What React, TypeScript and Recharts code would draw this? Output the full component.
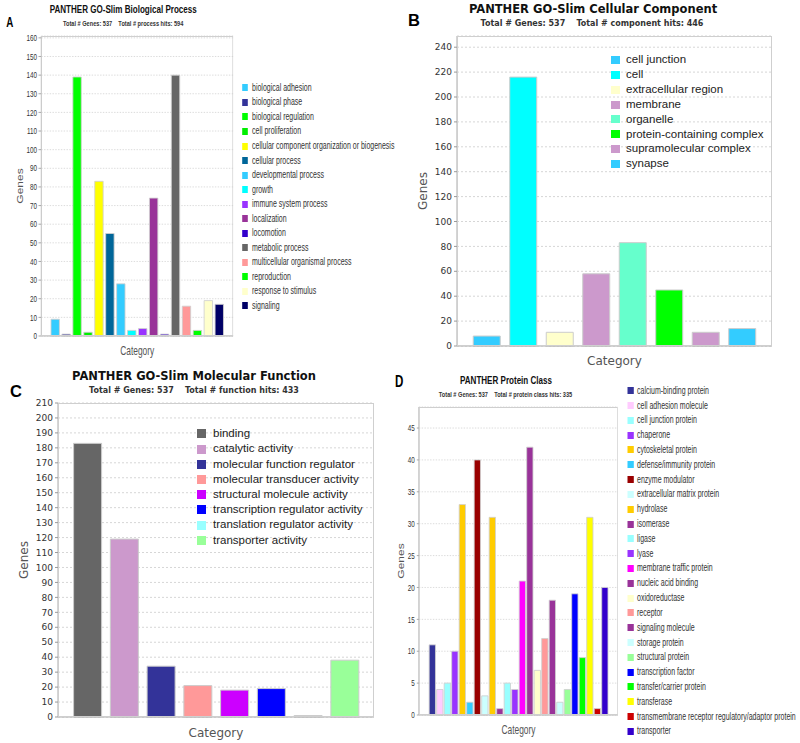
import React from "react";
import { BarChart, Bar, Cell, XAxis, YAxis, CartesianGrid, Legend } from "recharts";

// A: biological process
const bpCategories = [
  "biological adhesion", "biological phase", "biological regulation", "cell proliferation",
  "cellular component organization or biogenesis", "cellular process", "developmental process",
  "growth", "immune system process", "localization", "locomotion", "metabolic process",
  "multicellular organismal process", "reproduction", "response to stimulus", "signaling",
];
const bpGenes = [9, 1, 139, 2, 83, 55, 28, 3, 4, 74, 1, 140, 16, 3, 19, 17];
const bpColors = [
  "#33ccff", "#333399", "#00ff00", "#00ee00", "#ffff00", "#006699", "#33ccff", "#00ffff",
  "#9933ff", "#993399", "#3300cc", "#666666", "#ff9999", "#00ff00", "#ffffcc", "#000066",
];
const bpTicks = [0, 10, 20, 30, 40, 50, 60, 70, 80, 90, 100, 110, 120, 130, 140, 150, 160];

// B: cellular component
const ccCategories = [
  "cell junction", "cell", "extracellular region", "membrane", "organelle",
  "protein-containing complex", "supramolecular complex", "synapse",
];
const ccGenes = [8, 216, 11, 58, 83, 45, 11, 14];
const ccColors = ["#33ccff", "#00ffff", "#ffffcc", "#cc99cc", "#66ffcc", "#00ff00", "#cc99cc", "#33ccff"];
const ccTicks = [0, 20, 40, 60, 80, 100, 120, 140, 160, 180, 200, 220, 240];

// C: molecular function
const mfCategories = [
  "binding", "catalytic activity", "molecular function regulator", "molecular transducer activity",
  "structural molecule activity", "transcription regulator activity", "translation regulator activity",
  "transporter activity",
];
const mfGenes = [183, 119, 34, 21, 18, 19, 1, 38];
const mfColors = ["#666666", "#cc99cc", "#333399", "#ff9999", "#cc00ff", "#0000ff", "#99ffff", "#99ff99"];
const mfTicks = [0, 10, 20, 30, 40, 50, 60, 70, 80, 90, 100, 110, 120, 130, 140, 150, 160, 170, 180, 190, 200, 210];

// D: protein class
const pcCategories = [
  "calcium-binding protein", "cell adhesion molecule", "cell junction protein", "chaperone",
  "cytoskeletal protein", "defense/immunity protein", "enzyme modulator", "extracellular matrix protein",
  "hydrolase", "isomerase", "ligase", "lyase", "membrane traffic protein", "nucleic acid binding",
  "oxidoreductase", "receptor", "signaling molecule", "storage protein", "structural protein",
  "transcription factor", "transfer/carrier protein", "transferase",
  "transmembrane receptor regulatory/adaptor protein", "transporter",
];
const pcGenes = [11, 4, 5, 10, 33, 2, 40, 3, 31, 1, 5, 4, 21, 42, 7, 12, 18, 2, 4, 19, 9, 31, 1, 20];
const pcColors = [
  "#333399", "#ffccff", "#99ffff", "#9933ff", "#ffcc00", "#33ccff", "#990000", "#ccffff",
  "#ffcc00", "#993399", "#99ffff", "#9933ff", "#ff00ff", "#993399", "#ffffcc", "#ff9999",
  "#993399", "#ccffff", "#99ff99", "#0000ff", "#00ff00", "#ffff00", "#cc0000", "#3300cc",
];
const pcTicks = [0, 5, 10, 15, 20, 25, 30, 35, 40, 45];

const SANS = "'Liberation Sans', Arial, Helvetica, sans-serif";
const DEJAVU = "'DejaVu Sans', Verdana, sans-serif";

type LegendCfg = {
  left: number; top: number; row: number; swW: number; swH: number; gap: number;
  fontSize: number; font: string; color: string;
};

type PanelProps = {
  letter: string; title: string; subtitle: string;
  categories: string[]; values: number[]; colors: string[]; ticks: number[]; yMax: number;
  left: number; top: number; width: number; height: number; squash: number;
  plot: { left: number; right: number; top: number; bottom: number };
  pad: number; gap: string; tickSize: number; tickMargin: number;
  font: string; tickFont: number; labelFont: number; genesOffset: number; categoryOffset: number;
  titleFont: string; titleSize: number; subSize: number;
  titleCx: number; titleCy: number; subCx: number; subCy: number;
  letterX: number; letterCy: number; letterSize: number;
  legend: LegendCfg; barStroke: string;
};

function LegendList({ names, colors, cfg }: { names: string[]; colors: string[]; cfg: LegendCfg }) {
  return (
    <div style={{ fontFamily: cfg.font, fontSize: cfg.fontSize, color: cfg.color, whiteSpace: "nowrap", lineHeight: 1 }}>
      {names.map((n, i) => (
        <div key={n} style={{ display: "flex", alignItems: "center", height: cfg.row }}>
          <span style={{ display: "inline-block", width: cfg.swW, height: cfg.swH, background: colors[i], marginRight: cfg.gap, flex: "none" }} />
          <span>{n}</span>
        </div>
      ))}
    </div>
  );
}

function Panel(p: PanelProps) {
  const rows = p.categories.map((name, i) => ({ name, genes: p.values[i], color: p.colors[i] }));
  const innerW = Math.round(p.width / p.squash);
  const pl = p.plot;
  return (
    <div
      style={{
        position: "absolute", left: p.left, top: p.top, width: innerW, height: p.height,
        transform: `scaleX(${p.squash})`, transformOrigin: "0 0",
      }}
    >
      <div style={{ position: "absolute", left: p.letterX, top: p.letterCy - p.letterSize * 0.55, fontFamily: SANS, fontWeight: "bold", fontSize: p.letterSize, lineHeight: 1 }}>
        {p.letter}
      </div>
      <div style={{ position: "absolute", left: p.titleCx - 200, width: 400, top: p.titleCy - p.titleSize * 0.55, textAlign: "center", fontFamily: p.titleFont, fontWeight: "bold", fontSize: p.titleSize, lineHeight: 1, whiteSpace: "nowrap", color: "#111" }}>
        {p.title}
      </div>
      <div style={{ position: "absolute", left: p.subCx - 200, width: 400, top: p.subCy - p.subSize * 0.55, textAlign: "center", fontFamily: p.titleFont, fontWeight: "bold", fontSize: p.subSize, lineHeight: 1, whiteSpace: "pre", color: "#333" }}>
        {p.subtitle}
      </div>
      <BarChart
        width={innerW}
        height={p.height}
        data={rows}
        margin={{ top: pl.top, right: innerW - pl.right, bottom: 0, left: 0 }}
        barCategoryGap={p.gap}
      >
        <CartesianGrid vertical={false} stroke="#d6d6d6" strokeDasharray="2 2" />
        <XAxis
          dataKey="name"
          tick={false}
          tickLine={false}
          axisLine={{ stroke: "#aaa" }}
          height={p.height - pl.bottom}
          padding={{ left: p.pad, right: p.pad }}
          label={{ value: "Category", position: "insideBottom", offset: p.categoryOffset, fill: "#555", fontSize: p.labelFont, fontFamily: p.font }}
        />
        <YAxis
          type="number"
          width={pl.left}
          domain={[0, p.yMax]}
          ticks={p.ticks}
          interval={0}
          tickSize={p.tickSize}
          tickMargin={p.tickMargin}
          axisLine={{ stroke: "#aaa" }}
          tickLine={{ stroke: "#999" }}
          tick={{ fontSize: p.tickFont, fontFamily: p.font, fill: "#333" }}
          label={{ value: "Genes", angle: -90, position: "insideLeft", offset: p.genesOffset, fill: "#555", fontSize: p.labelFont, fontFamily: p.font, style: { textAnchor: "middle" } }}
        />
        <Legend
          layout="vertical"
          align="center"
          verticalAlign="middle"
          content={() => <LegendList names={p.categories} colors={p.colors} cfg={p.legend} />}
          wrapperStyle={{ left: p.legend.left, top: p.legend.top, width: "auto", height: "auto" }}
        />
        <Bar dataKey="genes" isAnimationActive={false} stroke={p.barStroke} strokeWidth={1}>
          {rows.map((r) => (
            <Cell key={r.name} fill={r.color} />
          ))}
        </Bar>
      </BarChart>
      <div
        style={{
          position: "absolute", left: pl.left, top: pl.top, width: pl.right - pl.left, height: pl.bottom - pl.top,
          border: "1px solid #cfcfcf", boxSizing: "border-box", pointerEvents: "none",
        }}
      />
    </div>
  );
}

export default function App() {
  return (
    <div style={{ position: "absolute", left: 0, top: 0, width: 800, height: 743, overflow: "hidden", background: "#fff" }}>
      <Panel
        letter="A"
        title="PANTHER GO-Slim Biological Process"
        subtitle={"Total # Genes: 537    Total # process hits: 594"}
        categories={bpCategories} values={bpGenes} colors={bpColors} ticks={bpTicks} yMax={161}
        left={0} top={0} width={400} height={365} squash={0.7}
        plot={{ left: 59, right: 333, top: 36, bottom: 336 }}
        pad={12} gap="12%" tickSize={4} tickMargin={2}
        font={SANS} tickFont={9} labelFont={12} genesOffset={29} categoryOffset={10}
        titleFont={SANS} titleSize={11.5} subSize={8}
        titleCx={176} titleCy={10} subCx={176} subCy={24}
        letterX={9} letterCy={23} letterSize={14}
        legend={{ left: 346, top: 80.7, row: 14.53, swW: 8, swH: 7, gap: 6, fontSize: 10, font: SANS, color: "#333" }}
        barStroke="#d0d0d0"
      />
      <Panel
        letter="B"
        title="PANTHER GO-Slim Cellular Component"
        subtitle={"Total # Genes: 537    Total # component hits: 446"}
        categories={ccCategories} values={ccGenes} colors={ccColors} ticks={ccTicks} yMax={249}
        left={400} top={0} width={400} height={368} squash={1}
        plot={{ left: 57, right: 372, top: 36, bottom: 346 }}
        pad={11.5} gap="13%" tickSize={3} tickMargin={2}
        font={DEJAVU} tickFont={9} labelFont={12} genesOffset={23} categoryOffset={3}
        titleFont={DEJAVU} titleSize={11.5} subSize={8}
        titleCx={193} titleCy={10} subCx={192} subCy={24.5}
        letterX={8} letterCy={21} letterSize={16.5}
        legend={{ left: 211, top: 52.6, row: 14.86, swW: 9, swH: 8, gap: 6, fontSize: 11.5, font: SANS, color: "#222" }}
        barStroke="#cccccc"
      />
      <Panel
        letter="C"
        title="PANTHER GO-Slim Molecular Function"
        subtitle={"Total # Genes: 537    Total # function hits: 433"}
        categories={mfCategories} values={mfGenes} colors={mfColors} ticks={mfTicks} yMax={210}
        left={0} top={365} width={400} height={378} squash={1}
        plot={{ left: 58, right: 374, top: 38, bottom: 352 }}
        pad={11} gap="12.5%" tickSize={3} tickMargin={2}
        font={DEJAVU} tickFont={9} labelFont={12} genesOffset={24} categoryOffset={6}
        titleFont={DEJAVU} titleSize={11.5} subSize={8}
        titleCx={194} titleCy={12} subCx={194} subCy={26}
        letterX={10} letterCy={27} letterSize={16.5}
        legend={{ left: 197, top: 61.4, row: 15.2, swW: 9, swH: 9, gap: 7, fontSize: 11.5, font: SANS, color: "#222" }}
        barStroke="#cccccc"
      />
      <Panel
        letter="D"
        title="PANTHER Protein Class"
        subtitle={"Total # Genes: 537    Total # protein class hits: 335"}
        categories={pcCategories} values={pcGenes} colors={pcColors} ticks={pcTicks} yMax={48.3}
        left={393} top={365} width={407} height={378} squash={0.7}
        plot={{ left: 37, right: 321.4, top: 42, bottom: 350 }}
        pad={13.6} gap="10%" tickSize={3} tickMargin={3}
        font={SANS} tickFont={9} labelFont={12} genesOffset={11} categoryOffset={9}
        titleFont={SANS} titleSize={11.5} subSize={8}
        titleCx={161.4} titleCy={16} subCx={160.7} subCy={30}
        letterX={3} letterCy={17} letterSize={16.5}
        legend={{ left: 335, top: 18.3, row: 14.82, swW: 8.6, swH: 7, gap: 5, fontSize: 10, font: SANS, color: "#333" }}
        barStroke="#d0d0d0"
      />
    </div>
  );
}
